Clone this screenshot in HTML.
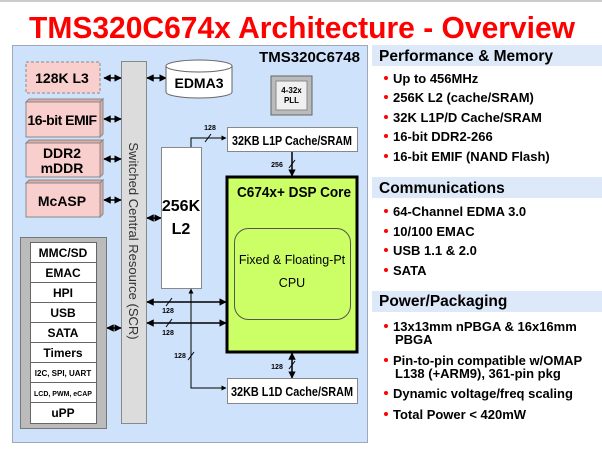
<!DOCTYPE html>
<html><head><meta charset="utf-8"><style>
body{margin:0;background:#fff;}
svg{display:block;font-family:"Liberation Sans",Arial,sans-serif;}
</style></head><body>
<svg width="602" height="452" viewBox="0 0 602 452" xmlns="http://www.w3.org/2000/svg">
<defs>
<marker id="a" viewBox="0 0 10 10" refX="9" refY="5" markerWidth="5" markerHeight="5" orient="auto-start-reverse"><path d="M0,0 L10,5 L0,10 z" fill="#000"/></marker>
</defs>
<line x1="0" y1="1" x2="602" y2="1" stroke="#ccc" stroke-width="2"/>
<text x="302" y="38" text-anchor="middle" font-size="31" font-weight="bold" fill="#ff0000" textLength="546" lengthAdjust="spacingAndGlyphs">TMS320C674x Architecture - Overview</text>

<rect x="12.5" y="45.5" width="355" height="397" fill="#cfe2fc" stroke="#a0a8b8"/>
<text x="360" y="62" text-anchor="end" font-size="15" font-weight="bold">TMS320C6748</text>

<g font-weight="bold" font-size="14" text-anchor="middle">
<rect x="26" y="62" width="74" height="31" fill="#f8cfcc" stroke="#888" stroke-dasharray="3,2"/>
<text x="62" y="83">128K L3</text>
<g fill="#e0aaa5" stroke="#888">
<path d="M26,102 l3,-3 h74 l-3,3 z"/><path d="M100,102 l3,-3 v35 l-3,3 z"/>
<path d="M26,143 l3,-3 h74 l-3,3 z"/><path d="M100,143 l3,-3 v34 l-3,3 z"/>
<path d="M26,183 l3,-3 h74 l-3,3 z"/><path d="M100,183 l3,-3 v34 l-3,3 z"/>
</g>
<rect x="26" y="102" width="74" height="35" fill="#f8cfcc" stroke="#888"/>
<text x="62" y="125" letter-spacing="-0.5">16-bit EMIF</text>
<rect x="26" y="143" width="74" height="34" fill="#f8cfcc" stroke="#888"/>
<text x="62" y="158">DDR2</text><text x="62" y="173">mDDR</text>
<rect x="26" y="183" width="74" height="34" fill="#f8cfcc" stroke="#888"/>
<text x="62" y="206">McASP</text>
</g>

<rect x="121.5" y="61.5" width="25" height="362" fill="#dcdcdc" stroke="#888"/>
<text transform="translate(129,241) rotate(90)" text-anchor="middle" font-size="13" fill="#333">Switched Central Resource (SCR)</text>

<g stroke="#000" stroke-width="1.5" marker-start="url(#a)" marker-end="url(#a)">
<line x1="104" y1="78" x2="121" y2="78"/>
<line x1="104" y1="119" x2="121" y2="119"/>
<line x1="104" y1="159" x2="121" y2="159"/>
<line x1="104" y1="200" x2="121" y2="200"/>
<line x1="107" y1="328" x2="121" y2="328"/>
<line x1="147" y1="78" x2="166" y2="78"/>
<line x1="147" y1="218" x2="161" y2="218"/>
<line x1="147" y1="302" x2="226" y2="302"/>
<line x1="147" y1="323" x2="226" y2="323"/>
<line x1="292" y1="353" x2="292" y2="378"/>
</g>

<path d="M166,66 v26 a33,6 0 0 0 66,0 v-26" fill="#fff" stroke="#666"/>
<ellipse cx="199" cy="66" rx="33" ry="6" fill="#fff" stroke="#666"/>
<text x="199" y="88" text-anchor="middle" font-size="14" font-weight="bold">EDMA3</text>

<rect x="271" y="76" width="41" height="39" fill="#bbb" stroke="#666"/>
<rect x="276" y="81" width="31" height="29" fill="#f0f0f0" stroke="#888"/>
<text x="291.5" y="93" text-anchor="middle" font-size="8" font-weight="bold">4-32x</text>
<text x="291.5" y="103" text-anchor="middle" font-size="8" font-weight="bold">PLL</text>

<rect x="227.5" y="127.5" width="130" height="24" fill="#fff" stroke="#888"/>
<text x="292" y="145" text-anchor="middle" font-size="13" font-weight="bold" textLength="120" lengthAdjust="spacingAndGlyphs">32KB L1P Cache/SRAM</text>
<polyline points="191,147 191,138 226,138" fill="none" stroke="#000" stroke-width="1" marker-end="url(#a)"/>
<line x1="205" y1="142" x2="211" y2="134" stroke="#000"/>
<text x="210" y="130" text-anchor="middle" font-size="7" font-weight="bold">128</text>
<line x1="292" y1="152" x2="292" y2="176" stroke="#000" stroke-width="1.5" marker-end="url(#a)"/>
<line x1="289" y1="168" x2="295" y2="160" stroke="#000"/>
<text x="277" y="167" text-anchor="middle" font-size="7" font-weight="bold">256</text>

<rect x="161.5" y="147.5" width="40" height="141" fill="#fff" stroke="#888"/>
<text x="181" y="211" text-anchor="middle" font-size="16" font-weight="bold">256K</text>
<text x="181" y="234" text-anchor="middle" font-size="16" font-weight="bold">L2</text>

<rect x="227" y="177" width="130" height="175" fill="#ccff66" stroke="#000" stroke-width="3"/>
<text x="294" y="197" text-anchor="middle" font-size="15" font-weight="bold" textLength="114" lengthAdjust="spacingAndGlyphs">C674x+ DSP Core</text>
<rect x="234.5" y="228.5" width="116" height="91" rx="14" fill="#ccff66" stroke="#555"/>
<text x="292" y="264" text-anchor="middle" font-size="12.5">Fixed &amp; Floating-Pt</text>
<text x="292" y="287" text-anchor="middle" font-size="12.5">CPU</text>

<g stroke="#000"><line x1="166" y1="306" x2="172" y2="298"/><line x1="166" y1="327" x2="172" y2="319"/><line x1="188" y1="360" x2="194" y2="352"/><line x1="289" y1="369" x2="295" y2="361"/></g>
<g font-size="7" font-weight="bold" text-anchor="middle">
<text x="168" y="313">128</text><text x="168" y="335">128</text><text x="180" y="358">128</text><text x="277" y="369">128</text>
</g>
<polyline points="191,289 191,388 226,388" fill="none" stroke="#000" stroke-width="1" marker-start="url(#a)" marker-end="url(#a)"/>

<rect x="227.5" y="378.5" width="130" height="25" fill="#fff" stroke="#888"/>
<text x="292" y="396" text-anchor="middle" font-size="13" font-weight="bold" textLength="122" lengthAdjust="spacingAndGlyphs">32KB L1D Cache/SRAM</text>

<rect x="20.5" y="237.5" width="86" height="191" fill="#bbb" stroke="#777"/>
<g fill="#fff" stroke="#666">
<rect x="30.5" y="242.5" width="66" height="20"/><rect x="30.5" y="262.5" width="66" height="20"/><rect x="30.5" y="282.5" width="66" height="20"/>
<rect x="30.5" y="302.5" width="66" height="20"/><rect x="30.5" y="322.5" width="66" height="20"/><rect x="30.5" y="342.5" width="66" height="20"/>
<rect x="30.5" y="362.5" width="66" height="20"/><rect x="30.5" y="382.5" width="66" height="20"/><rect x="30.5" y="402.5" width="66" height="21"/>
</g>
<g font-weight="bold" text-anchor="middle" font-size="12">
<text x="63" y="257">MMC/SD</text><text x="63" y="277">EMAC</text><text x="63" y="297">HPI</text>
<text x="63" y="317">USB</text><text x="63" y="337">SATA</text><text x="63" y="357">Timers</text>
<text x="63" y="376" font-size="8">I2C, SPI, UART</text><text x="63" y="396" font-size="7">LCD, PWM, eCAP</text>
<text x="63" y="417">uPP</text>
</g>

<rect x="372" y="45" width="230" height="21" fill="#dde8f8"/>
<text x="379" y="61" font-size="15.5" font-weight="bold">Performance &amp; Memory</text>
<rect x="372" y="177" width="230" height="21" fill="#dde8f8"/>
<text x="379" y="193" font-size="15.5" font-weight="bold">Communications</text>
<rect x="372" y="291" width="230" height="21" fill="#dde8f8"/>
<text x="379" y="306" font-size="15.5" font-weight="bold">Power/Packaging</text>
<g font-size="13" font-weight="bold">
<g fill="#f00"><circle cx="386" cy="78" r="2"/><circle cx="386" cy="97" r="2"/><circle cx="386" cy="117" r="2"/><circle cx="386" cy="136" r="2"/><circle cx="386" cy="156" r="2"/>
<circle cx="386" cy="211" r="2"/><circle cx="386" cy="231" r="2"/><circle cx="386" cy="250" r="2"/><circle cx="386" cy="270" r="2"/>
<circle cx="386" cy="326" r="2"/><circle cx="386" cy="360" r="2"/><circle cx="386" cy="393" r="2"/><circle cx="386" cy="414" r="2"/></g>
<text x="393" y="83">Up to 456MHz</text>
<text x="393" y="102">256K L2 (cache/SRAM)</text>
<text x="393" y="122">32K L1P/D Cache/SRAM</text>
<text x="393" y="141">16-bit DDR2-266</text>
<text x="393" y="161">16-bit EMIF (NAND Flash)</text>
<text x="393" y="216">64-Channel EDMA 3.0</text>
<text x="393" y="236">10/100 EMAC</text>
<text x="393" y="255">USB 1.1 &amp; 2.0</text>
<text x="393" y="275">SATA</text>
<text x="393" y="331">13x13mm nPBGA &amp; 16x16mm</text>
<text x="395" y="344">PBGA</text>
<text x="393" y="365">Pin-to-pin compatible w/OMAP</text>
<text x="395" y="378">L138 (+ARM9), 361-pin pkg</text>
<text x="393" y="398">Dynamic voltage/freq scaling</text>
<text x="393" y="419">Total Power &lt; 420mW</text>
</g>
</svg>
</body></html>
